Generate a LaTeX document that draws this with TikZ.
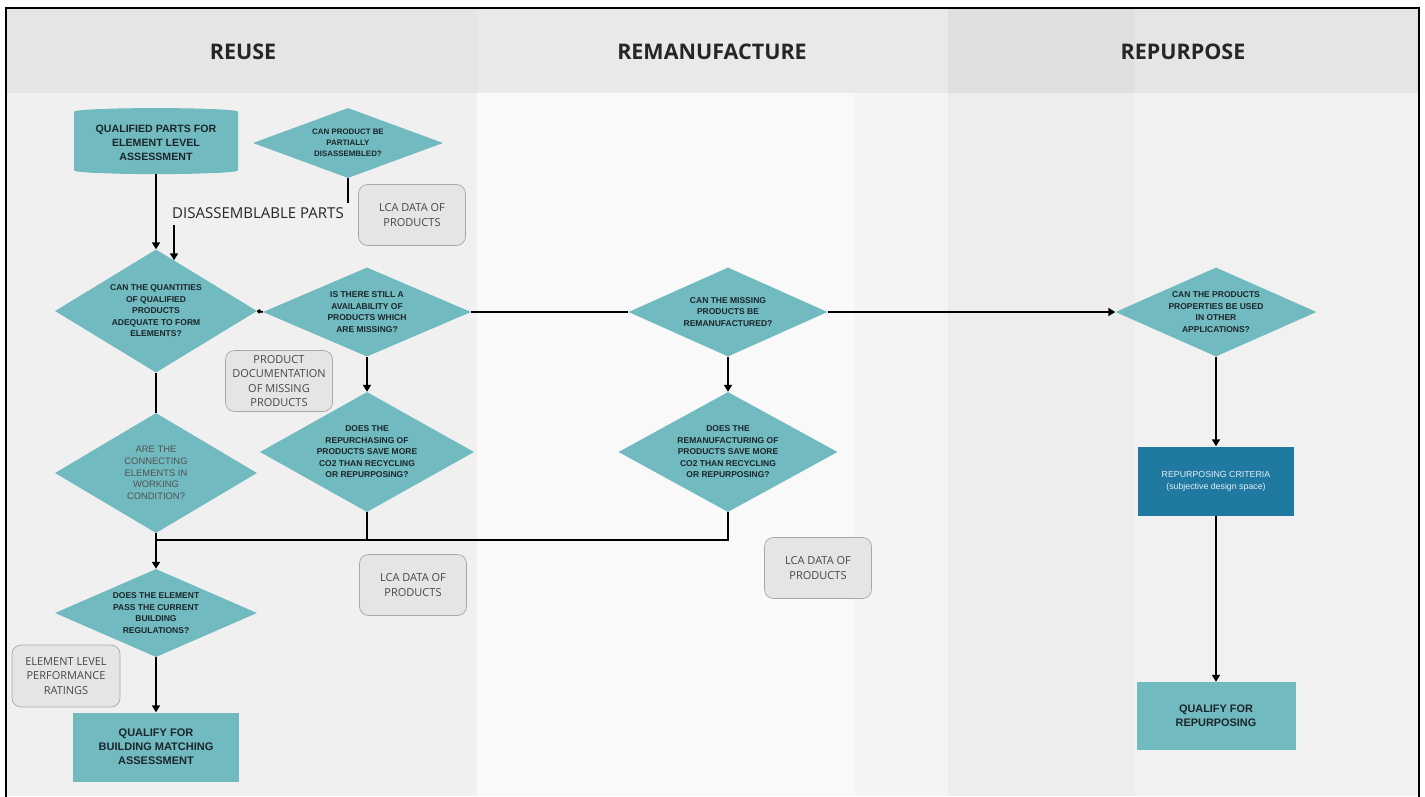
\documentclass[tikz,border=0pt]{standalone}
\usepackage{fontspec}
\setmainfont{Open Sans}
\newfontfamily\boxfont{Liberation Sans}
\usepackage{tikz}
\usetikzlibrary{arrows.meta,positioning,calc,shapes.geometric}
\usepackage{xcolor}
\definecolor{flowteal}{RGB}{112,186,192}
\definecolor{critblue}{RGB}{32,121,160}
\definecolor{notegray}{RGB}{229,229,229}
\definecolor{noteline}{RGB}{168,168,168}
\definecolor{inktext}{RGB}{28,38,42}

\begin{document}
\begin{tikzpicture}[x=1pt,y=-1pt,
  dia/.style={diamond,fill=flowteal,inner sep=0pt},
  qtext/.style={font=\boxfont\bfseries\fontsize{8.5}{11.5}\selectfont,text=inktext,align=center},
  qsmall/.style={font=\boxfont\bfseries\fontsize{7.9}{11}\selectfont,text=inktext,align=center},
  qplain/.style={font=\boxfont\fontsize{9.4}{11.8}\selectfont,text=black!68,align=center},
  tealbox/.style={fill=flowteal,inner sep=0pt,align=center,text=inktext,
    font=\boxfont\bfseries\fontsize{11}{14}\selectfont},
  note/.style={draw=noteline,fill=notegray,rounded corners=9pt,line width=0.7pt,
    minimum width=107pt,minimum height=61pt,inner sep=0pt,align=center,
    text=black!72,font=\fontsize{11}{14.2}\selectfont},
  head/.style={font=\bfseries\fontsize{21.5}{24}\selectfont,text=black!85},
  link/.style={line width=1.8pt},
  arr/.style={line width=1.8pt,-{Triangle[length=7pt,width=8pt]}}]
\useasboundingbox (0,0) rectangle (1425,796);

% lanes
\fill[black!10] (6,8) rectangle (477,93);
\fill[black!8.5] (477,8) rectangle (948,93);
\fill[black!12] (948,8) rectangle (1135,93);
\fill[black!10] (1135,8) rectangle (1419,93);
\fill[black!6] (6,93) rectangle (477,796);
\fill[black!2.5] (477,93) rectangle (855,796);
\fill[black!4.5] (855,93) rectangle (948,796);
\fill[black!7] (948,93) rectangle (1135,796);
\fill[black!5.5] (1135,93) rectangle (1419,796);
\draw[line width=1.5pt] (6,797) -- (6,8) -- (1419,8) -- (1419,797);

\node[head] (hreuse) at (243,52) {REUSE};
\node[head] (hreman) at (712,52) {REMANUFACTURE};
\node[head] (hrepur) at (1183,52) {REPURPOSE};

% reuse lane
\node[cylinder,shape border rotate=90,aspect=0.06,fill=flowteal,
  minimum width=164pt,minimum height=66pt,inner sep=0pt,align=center,
  text=inktext,font=\boxfont\bfseries\fontsize{10.6}{14}\selectfont] (parts)
  at (156,143) {QUALIFIED PARTS FOR\\ELEMENT LEVEL\\ASSESSMENT};
\node[dia,minimum width=190pt,minimum height=70pt,
  label={[qsmall]center:CAN PRODUCT BE\\PARTIALLY\\DISASSEMBLED?}] (part)
  at (348,143) {};
\node[note] (lca1) at (412,215) {LCA DATA OF\\PRODUCTS};
\node[font=\fontsize{15}{18}\selectfont,text=black!85] (dparts)
  at (258,213) {DISASSEMBLABLE PARTS};
\coordinate (stub) at (348,203);
\coordinate (dstart) at (174,225);

\node[dia,minimum width=202pt,minimum height=123pt,
  label={[qtext]center:CAN THE QUANTITIES\\OF QUALIFIED\\PRODUCTS\\ADEQUATE TO FORM\\ELEMENTS?}] (qty)
  at (156,311) {};
\node[dia,minimum width=208pt,minimum height=89pt,
  label={[qtext]center:IS THERE STILL A\\AVAILABILITY OF\\PRODUCTS WHICH\\ARE MISSING?}] (avail)
  at (367,312) {};
\node[note] (doc) at (279,381) {PRODUCT\\DOCUMENTATION\\OF MISSING\\PRODUCTS};
\node[dia,minimum width=214pt,minimum height=120pt,
  label={[qtext]center:DOES THE\\REPURCHASING OF\\PRODUCTS SAVE MORE\\CO2 THAN RECYCLING\\OR REPURPOSING?}] (rep)
  at (367,452) {};
\node[dia,minimum width=202pt,minimum height=120pt,
  label={[qplain]center:ARE THE\\CONNECTING\\ELEMENTS IN\\WORKING\\CONDITION?}] (conn)
  at (156,473) {};
\node[note] (lca2) at (413,585) {LCA DATA OF\\PRODUCTS};
\node[dia,minimum width=202pt,minimum height=88pt,
  label={[qtext]center:DOES THE ELEMENT\\PASS THE CURRENT\\BUILDING\\REGULATIONS?}] (reg)
  at (156,613) {};
\node[note,minimum width=108pt,minimum height=62pt] (perf)
  at (66,676) {ELEMENT LEVEL\\PERFORMANCE\\RATINGS};
\node[tealbox,minimum width=166pt,minimum height=69pt] (qual)
  at (156,747) {QUALIFY FOR\\BUILDING MATCHING\\ASSESSMENT};

% remanufacture lane
\node[dia,minimum width=199pt,minimum height=89pt,
  label={[qtext]center:CAN THE MISSING\\PRODUCTS BE\\REMANUFACTURED?}] (mis)
  at (728,312) {};
\node[dia,minimum width=219pt,minimum height=120pt,
  label={[qtext]center:DOES THE\\REMANUFACTURING OF\\PRODUCTS SAVE MORE\\CO2 THAN RECYCLING\\OR REPURPOSING?}] (mis2)
  at (728,452) {};
\node[note] (lca3) at (818,568) {LCA DATA OF\\PRODUCTS};

% repurpose lane
\node[dia,minimum width=201pt,minimum height=89pt,
  label={[qtext]center:CAN THE PRODUCTS\\PROPERTIES BE USED\\IN OTHER\\APPLICATIONS?}] (purp)
  at (1216,312) {};
\node[fill=critblue,minimum width=156pt,minimum height=69pt,inner sep=0pt,
  align=center,text=white!88!critblue,
  font=\boxfont\fontsize{8.8}{12}\selectfont] (crit)
  at (1216,481) {REPURPOSING CRITERIA\\(subjective design space)};
\node[tealbox,minimum width=159pt,minimum height=68pt,
  font=\boxfont\bfseries\fontsize{10.9}{14}\selectfont] (final)
  at (1216,716) {QUALIFY FOR\\REPURPOSING};

% connectors
\coordinate (join) at (156,540);
\draw[link] (part.south) -- (stub);
\draw[arr] (parts.south) -- (qty.north);
\draw[arr] (dstart) -- ($(qty.north)!0.178!(qty.east)$);
\draw[link,{Circle[length=4pt]}-] (qty.east) -- (avail.west);
\draw[link] (avail.east) -- (mis.west);
\draw[arr] (mis.east) -- (purp.west);
\draw[arr] (avail.south) -- (rep.north);
\draw[arr] (mis.south) -- (mis2.north);
\draw[link] (qty.south) -- (conn.north);
\draw[link] (conn.south) -- (join);
\draw[link] (rep.south) -- (rep.south |- join);
\draw[link] (mis2.south) |- (join);
\draw[arr] (join) -- (reg.north);
\draw[arr] (reg.south) -- (qual.north);
\draw[arr] (purp.south) -- (crit.north);
\draw[arr] (crit.south) -- (final.north);
\end{tikzpicture}
\end{document}
